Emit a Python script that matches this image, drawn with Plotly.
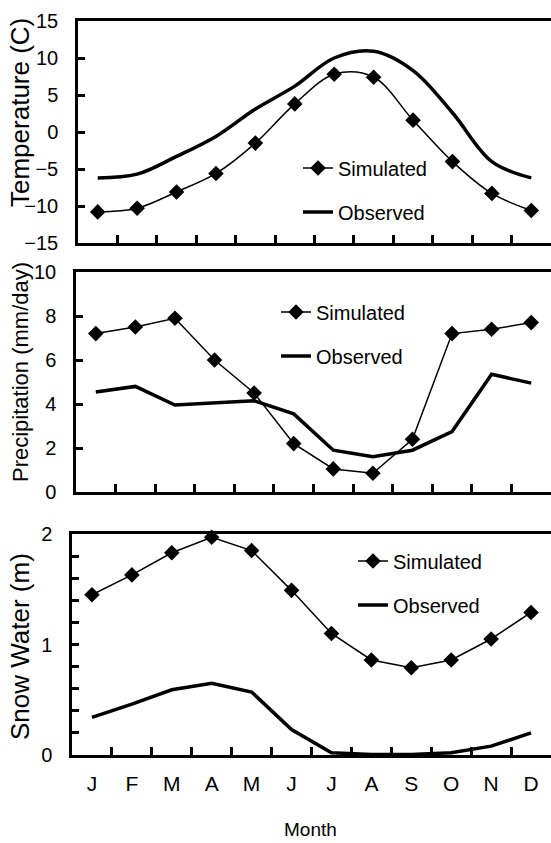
import plotly.graph_objects as go

months = ["J", "F", "M", "A", "M", "J", "J", "A", "S", "O", "N", "D"]
month_idx = list(range(1, 13))

temp_sim = [-10.8, -10.3, -8.1, -5.6, -1.5, 3.8, 7.8, 7.4, 1.6, -4.0, -8.3, -10.6]
temp_obs = [-6.2, -5.7, -3.3, -0.6, 3.1, 6.2, 10.0, 10.9, 8.3, 2.6, -4.0, -6.2]
prec_sim = [7.2, 7.5, 7.9, 6.0, 4.5, 2.2, 1.05, 0.85, 2.4, 7.2, 7.4, 7.7]
prec_obs = [4.55, 4.8, 3.95, 4.05, 4.15, 3.55, 1.9, 1.6, 1.9, 2.75, 5.35, 4.95]
snow_sim = [1.45, 1.63, 1.83, 1.97, 1.85, 1.49, 1.10, 0.86, 0.79, 0.86, 1.05, 1.29]
snow_obs = [0.34, 0.46, 0.59, 0.65, 0.57, 0.23, 0.02, 0.005, 0.005, 0.02, 0.08, 0.2]

temp_ticks = [-15, -10, -5, 0, 5, 10, 15]
prec_ticks = [0, 2, 4, 6, 8, 10]
snow_ticks = [0, 1, 2]

W, H = 551, 843
FONT = "Liberation Sans, Arial, sans-serif"


def fx(px):
    return px / W


def fy(py):
    return 1 - py / H


fig = go.Figure()

panels = [
    ("x", "y", "legend", temp_sim, temp_obs, "spline"),
    ("x2", "y2", "legend2", prec_sim, prec_obs, "linear"),
    ("x3", "y3", "legend3", snow_sim, snow_obs, "linear"),
]
for xa, ya, lg, sim, obs, shape in panels:
    fig.add_trace(go.Scatter(
        x=month_idx, y=sim, xaxis=xa, yaxis=ya, name="Simulated",
        mode="lines+markers", line=dict(color="black", width=1.5, shape=shape),
        marker=dict(symbol="diamond", size=12, color="black"),
        legend=lg, legendgroup="sim" + xa, cliponaxis=False))
    fig.add_trace(go.Scatter(
        x=month_idx, y=obs, xaxis=xa, yaxis=ya, name="Observed",
        mode="lines", line=dict(color="black", width=3.5, shape=shape),
        legend=lg, legendgroup="obs" + xa, cliponaxis=False))

axis_common = dict(showline=True, linecolor="black", linewidth=2.5,
                   showgrid=False, zeroline=False, ticks="inside",
                   tickcolor="black", tickwidth=2.5, ticklen=7,
                   tickfont=dict(family=FONT, size=20, color="black"),
                   automargin=False)

xminor = dict(ticks="inside", tick0=0.5, dtick=1, ticklen=8,
              tickwidth=2.5, tickcolor="black", showgrid=False)

boxes = {
    "": ((78, 551), (21, 243)),
    "2": ((76, 551), (272, 492)),
    "3": ((72, 551), (534, 755)),
}

for key, ((x0, x1), (y0, y1)) in boxes.items():
    xa = dict(axis_common)
    xa.update(domain=[fx(x0), fx(x1)], range=[0.5, 12.5], mirror=True,
              anchor="y" + key, tickmode="array", tickvals=month_idx,
              ticktext=months, ticklen=0, minor=xminor,
              showticklabels=(key == "3"), ticklabelstandoff=8,
              tickfont=dict(family=FONT, size=21, color="black"))
    ya = dict(axis_common)
    ya.update(domain=[fy(y1), fy(y0)], anchor="x" + key,
              ticklabelstandoff=13)
    fig.layout["xaxis" + key] = xa
    fig.layout["yaxis" + key] = ya

fig.layout.yaxis.update(range=[-15, 15], tickmode="array", tickvals=temp_ticks)
fig.layout.yaxis2.update(range=[0, 10], tickmode="array", tickvals=prec_ticks)
fig.layout.yaxis3.update(range=[0, 2], tickmode="array", tickvals=snow_ticks,
                         minor=dict(ticks="inside", dtick=0.2, ticklen=7,
                                    tickwidth=2.5, tickcolor="black"))

legend_common = dict(font=dict(family=FONT, size=20, color="black"),
                     bgcolor="white", borderwidth=0, xanchor="left",
                     yanchor="middle", tracegroupgap=15, itemwidth=30)
fig.update_layout(
    legend=dict(legend_common, x=fx(298), y=fy(190)),
    legend2=dict(legend_common, x=fx(276), y=fy(334)),
    legend3=dict(legend_common, x=fx(353), y=fy(583)),
)

titles = [("Temperature (C)", 20, 113, 26),
          ("Precipitation (mm/day)", 20, 372, 22),
          ("Snow Water (m)", 20, 647, 26)]
for txt, px, py, sz in titles:
    fig.add_annotation(text=txt, x=fx(px), y=fy(py), xref="paper",
                       yref="paper", showarrow=False, textangle=-90,
                       xanchor="center", yanchor="middle",
                       font=dict(family=FONT, size=sz, color="black"))
fig.add_annotation(text="Month", x=fx(311), y=fy(829), xref="paper",
                   yref="paper", showarrow=False, xanchor="center",
                   yanchor="middle",
                   font=dict(family=FONT, size=19, color="black"))

fig.update_layout(width=W, height=H, margin=dict(l=0, r=0, t=0, b=0),
                  paper_bgcolor="white", plot_bgcolor="white",
                  showlegend=True)

fig.write_html("out.html", config={"displayModeBar": False},
               post_script="document.body.style.margin='0';"
                           "document.body.style.overflow='hidden';")
